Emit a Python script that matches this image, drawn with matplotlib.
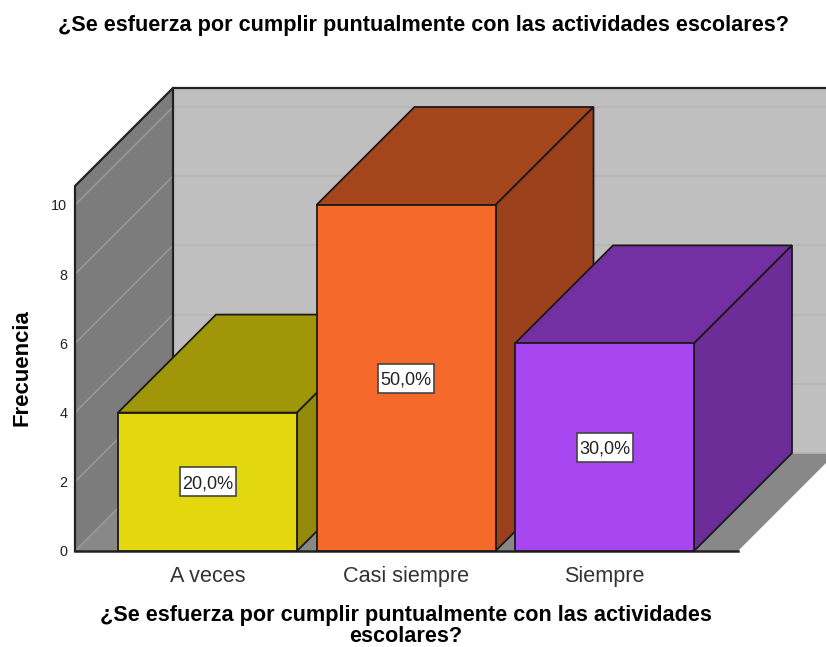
import matplotlib
matplotlib.use("Agg")
import matplotlib.pyplot as plt
from matplotlib.patches import Polygon, Rectangle

categories = ["A veces", "Casi siempre", "Siempre"]
frequencies = [4, 10, 6]
percent_labels = ["20,0%", "50,0%", "30,0%"]
y_ticks = [0, 2, 4, 6, 8, 10]
title = "¿Se esfuerza por cumplir puntualmente con las actividades escolares?"
xlabel = "¿Se esfuerza por cumplir puntualmente con las actividades\nescolares?"
ylabel = "Frecuencia"
front_colors = ["#E3D80E", "#F5692B", "#A846F2"]
top_colors = ["#9F9608", "#A5461C", "#7430A3"]
side_colors = ["#938A0A", "#9A401A", "#6C2D98"]

W, H = 826, 647
plt.rcParams["font.family"] = ["Liberation Sans", "DejaVu Sans"]
fig = plt.figure(figsize=(W / 100, H / 100), dpi=100, facecolor="white")
ax = fig.add_axes([75 / W, (H - 551) / H, (W - 75) / W, (551 - 88) / H])

PX_X, PX_Y = 198.5, 34.6
XLIM = ((75 - 207.5) / PX_X, (W - 207.5) / PX_X)
DX, DY = 98 / PX_X, 98 / PX_Y      # oblique depth of the 3-D box
x0, x1 = (75 - 207.5) / PX_X, (738 - 207.5) / PX_X
ytop = (551 - 186) / PX_Y
EDGE = "#1a1a1a"

def poly(pts, fc, ec="none", lw=0, z=1, clip=False):
    ax.add_patch(Polygon(pts, closed=True, facecolor=fc, edgecolor=ec, linewidth=lw,
                         zorder=z, joinstyle="miter", clip_on=clip))

# walls and floor
poly([(x0 + DX, DY), (x1 + 2 * DX, DY), (x1 + 2 * DX, ytop + DY), (x0 + DX, ytop + DY)], "#BFBFBF", clip=True)
poly([(x0, 0), (x0 + DX, DY), (x0 + DX, ytop + DY), (x0, ytop)], "#7C7C7C")
poly([(x0, 0), (x1, 0), (x1 + DX, DY), (x0 + DX, DY)], "#888888", clip=True)

for v in y_ticks:
    ax.plot([x0 + DX, x1 + 2 * DX], [v + DY, v + DY], color="#B5B5B5", lw=1.2, zorder=1.2)
    ax.plot([x0, x0 + DX], [v, v + DY], color="#9C9C9C", lw=1.0, zorder=1.2)

ax.plot([x0, x0, x0 + DX, x1 + 2 * DX], [0, ytop, ytop + DY, ytop + DY], color="#222222", lw=1.6,
        zorder=1.3, clip_on=False)
ax.plot([x0 + DX, x0 + DX], [DY, ytop + DY], color="#222222", lw=1.6, zorder=1.3, clip_on=False)
ax.plot([x0, x1], [0, 0], color="#222222", lw=1.8, zorder=1.3, clip_on=False)

# bars
BW = 179 / PX_X
BOX_W, BOX_H = 56 / PX_X, 29 / PX_Y
for i, (v, f, t, s, lab) in enumerate(zip(frequencies, front_colors, top_colors, side_colors, percent_labels)):
    l, r = i - BW / 2, i + BW / 2
    z = 2 + i
    poly([(l, v), (r, v), (r + DX, v + DY), (l + DX, v + DY)], t, EDGE, 1.3, z)
    poly([(r, 0), (r + DX, DY), (r + DX, v + DY), (r, v)], s, EDGE, 1.3, z)
    ax.bar(i, v, width=BW, color=f, edgecolor=EDGE, linewidth=1.3, zorder=z + 0.1, clip_on=False)
    ax.add_patch(Rectangle((i - BOX_W / 2, v / 2 - BOX_H / 2), BOX_W, BOX_H, facecolor="white",
                           edgecolor="#444444", linewidth=1.2, zorder=z + 0.2))
    ax.text(i, v / 2, lab, ha="center", va="center_baseline", fontsize=13, color="#222222", zorder=z + 0.3)

# axes
ax.set_xlim(*XLIM)
ax.set_ylim(0, (551 - 88) / PX_Y)
for sp in ax.spines.values():
    sp.set_visible(False)
ax.patch.set_visible(False)
ax.set_xticks(range(len(categories)), categories)
ax.set_yticks(y_ticks)
ax.tick_params(axis="x", length=0, labelsize=15.6, labelcolor="#333333", pad=11)
ax.tick_params(axis="y", length=0, labelsize=10.4, labelcolor="#222222", pad=5.5)

fig.text(423.5 / W, 1 - 25 / H, title, ha="center", va="center", fontsize=15.55, fontweight="bold", color="black")
fig.text(406 / W, 1 - 626.5 / H, xlabel, ha="center", va="center", fontsize=15.55, fontweight="bold",
         color="black", linespacing=1.0)
fig.text(22.5 / W, 1 - 367.5 / H, ylabel, ha="center", va="center", rotation=90, fontsize=15.9,
         fontweight="bold", color="black")

fig.savefig("out.png", dpi=100)
